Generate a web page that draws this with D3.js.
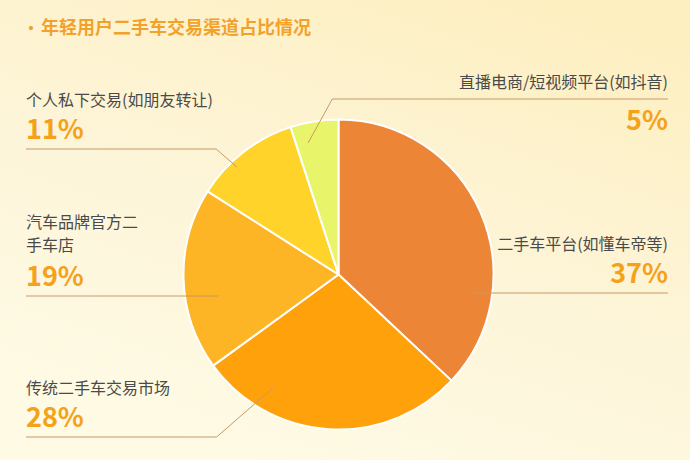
<!DOCTYPE html>
<html>
<head>
<meta charset="utf-8">
<script src="https://cdn.jsdelivr.net/npm/d3@7"></script>
<style>
  html, body { margin: 0; padding: 0; background: #FDF6DC; }
  svg { display: block; }
</style>
</head>
<body>
<div id="chart"></div>
<script>
// channel shares, clockwise from 12 o'clock
var channels = ["二手车平台(如懂车帝等)", "传统二手车交易市场", "汽车品牌官方二手车店", "个人私下交易(如朋友转让)", "直播电商/短视频平台(如抖音)"];
var shares = [37, 28, 19, 11, 5];
var sliceColors = ["#EC8535", "#FFA10B", "#FDB526", "#FFD329", "#E8F56B"];
var title = "年轻用户二手车交易渠道占比情况";

var W = 690, H = 460;
var cx = 338.5, cy = 274.5, R = 155;

// label layout: side, y of the leader's flat part, leader anchor (angle deg, radius), name lines
var labelLayout = [
  { side: "right", lineY: 293, anchorA: 98, anchorR: 136, lines: ["二手车平台(如懂车帝等)"], above: true },
  { side: "left", lineY: 437, anchorA: 210, anchorR: 131, lines: ["传统二手车交易市场"], above: true },
  { side: "left", lineY: 296, anchorA: 260, anchorR: 122, lines: ["汽车品牌官方二", "手车店"], above: true },
  { side: "left", lineY: 149, anchorA: 316.6, anchorR: 148, lines: ["个人私下交易(如朋友转让)"], above: true },
  { side: "right", lineY: 99, anchorA: 347, anchorR: 135, lines: ["直播电商/短视频平台(如抖音)"], above: false }
];

var svg = d3.select("#chart").append("svg")
    .attr("width", W).attr("height", H)
    .style("font-family", "'Noto Sans CJK SC', 'Noto Sans', sans-serif");

var defs = svg.append("defs");
var bg = defs.append("linearGradient").attr("id", "bg")
    .attr("x1", "0.85").attr("y1", "0").attr("x2", "0.35").attr("y2", "1");
bg.append("stop").attr("offset", "0").attr("stop-color", "#FEEFC0");
bg.append("stop").attr("offset", "0.55").attr("stop-color", "#FDF5D9");
bg.append("stop").attr("offset", "1").attr("stop-color", "#FEFAE4");
svg.append("rect").attr("width", W).attr("height", H).attr("fill", "url(#bg)");

// title
var t = svg.append("text").attr("x", 23).attr("y", 34)
    .attr("font-size", 18).attr("font-weight", 700).attr("fill", "#F2A22B");
t.append("tspan").text("·").attr("font-size", 16);
t.append("tspan").attr("dx", 2).text(title);

// pie
var pie = d3.pie().sort(null).value(function(d) { return d; });
var arc = d3.arc().innerRadius(0).outerRadius(R);
var arcs = pie(shares);

var g = svg.append("g").attr("transform", "translate(" + cx + "," + cy + ")");
g.selectAll("path.slice")
  .data(arcs).enter().append("path")
    .attr("class", "slice")
    .attr("d", arc)
    .attr("fill", function(d, i) { return sliceColors[i]; })
    .attr("stroke", "#FFFFFF")
    .attr("stroke-width", 2)
    .attr("stroke-linejoin", "round");

// leaders and labels
var leftX = 26, rightX = 668;
var lineStep = 23.5;
labelLayout.forEach(function(L, i) {
  var p = d3.pointRadial(L.anchorA * Math.PI / 180, L.anchorR);
  var ax = cx + p[0], ay = cy + p[1];
  var dy = Math.abs(ay - L.lineY);
  var pts;
  if (L.side === "left") {
    // bend point: keep a short diagonal into the slice
    var bx = Math.max(leftX + 150, ax - dy * 1.15);
    pts = [[leftX, L.lineY], [bx, L.lineY], [ax, ay]];
  } else {
    var bx2 = ax + dy * 0.55;
    pts = [[rightX, L.lineY], [bx2, L.lineY], [ax, ay]];
  }
  svg.append("path")
    .attr("d", d3.line()(pts))
    .attr("fill", "none")
    .attr("stroke", "#C99866")
    .attr("stroke-width", 1);

  var x = L.side === "left" ? leftX : rightX;
  var anchor = L.side === "left" ? "start" : "end";
  var pctY, nameY;
  if (L.above) {
    pctY = L.lineY - 10;
    nameY = pctY - (L.lines.length > 1 ? 35 : 33) - (L.lines.length - 1) * lineStep;
  } else {
    nameY = L.lineY - 11;
    pctY = L.lineY + 31;
  }
  var name = svg.append("text")
      .attr("x", x).attr("y", nameY)
      .attr("text-anchor", anchor)
      .attr("font-size", 16)
      .attr("fill", "#4A4A4A");
  L.lines.forEach(function(s, k) {
    name.append("tspan")
      .attr("x", x)
      .attr("dy", k === 0 ? 0 : lineStep)
      .text(s);
  });
  svg.append("text")
    .attr("x", x).attr("y", pctY)
    .attr("text-anchor", anchor)
    .attr("font-size", 27)
    .attr("font-weight", 700)
    .attr("fill", "#F5A11A")
    .text(shares[i] + "%");
});
</script>
</body>
</html>
